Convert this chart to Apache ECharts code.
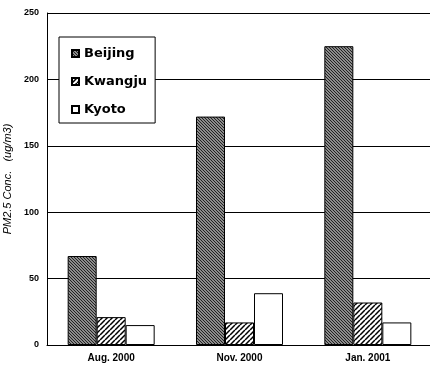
<!DOCTYPE html>
<html><head><meta charset="utf-8">
<script src="https://cdn.jsdelivr.net/npm/echarts@6/dist/echarts.min.js"></script>
<style>html,body{margin:0;padding:0;background:#fff}#c{width:430px;height:367px}</style>
</head><body><div id="c"></div>
<script>
const categories = ['Aug. 2000', 'Nov. 2000', 'Jan. 2001'];
const seriesNames = ['Beijing', 'Kwangju', 'Kyoto'];
const beijing = [67, 172, 225];
const kwangju = [21, 17, 32];
const kyoto = [15, 39, 17];
const yMin = 0, yMax = 250, yStep = 50;

function hatch(size, bg, fg, lw, dir) {
  const c = document.createElement('canvas');
  c.width = size; c.height = size;
  const g = c.getContext('2d');
  g.fillStyle = bg; g.fillRect(0, 0, size, size);
  g.strokeStyle = fg; g.lineWidth = lw;
  g.beginPath();
  for (const k of [-size, 0, size]) {
    if (dir === '/') { g.moveTo(k, size); g.lineTo(k + size, 0); }
    else { g.moveTo(k, 0); g.lineTo(k + size, size); }
  }
  g.stroke();
  return { image: c, repeat: 'repeat' };
}
const patBeijing = hatch(3, '#8c8c8c', '#222', 1, '\\');
const patKwangju = hatch(5, '#ffffff', '#000', 1.5, '/');

const chart = echarts.init(document.getElementById('c'), null, { renderer: 'canvas' });
const barBase = { type: 'bar', barWidth: 29, barGap: '0%' };
chart.setOption({
  animation: false,
  backgroundColor: '#fff',
  grid: { left: 47, top: 13, width: 385, height: 332, outerBoundsMode: 'none', containLabel: false },
  legend: {
    orient: 'vertical', left: 59, top: 37,
    backgroundColor: '#fff', borderColor: '#000', borderWidth: 1,
    padding: [10, 8, 7, 12], itemGap: 15, itemWidth: 7, itemHeight: 7,
    icon: 'rect',
    textStyle: { fontFamily: 'DejaVu Sans', fontWeight: 'bold', fontSize: 13, color: '#000' },
    data: seriesNames
  },
  xAxis: {
    type: 'category', data: categories,
    axisLine: { lineStyle: { color: '#000', width: 1 } },
    axisTick: { show: false },
    axisLabel: { color: '#000', fontFamily: 'Liberation Sans', fontWeight: 'bold', fontSize: 10, margin: 8 }
  },
  yAxis: {
    type: 'value', min: yMin, max: yMax, interval: yStep,
    name: 'PM2.5 Conc.   (ug/m3)', nameLocation: 'middle', nameGap: 31,
    nameTextStyle: { fontFamily: 'Liberation Sans', fontStyle: 'italic', fontSize: 11, color: '#000' },
    axisLine: { show: true, lineStyle: { color: '#000', width: 1 } },
    axisTick: { show: false },
    axisLabel: { color: '#000', fontFamily: 'Liberation Sans', fontWeight: 'bold', fontSize: 9, margin: 8 },
    splitLine: { show: true, lineStyle: { color: '#000', width: 1 } }
  },
  series: [
    Object.assign({}, barBase, { name: seriesNames[0], data: beijing, itemStyle: { color: patBeijing, borderColor: '#000', borderWidth: 1 } }),
    Object.assign({}, barBase, { name: seriesNames[1], data: kwangju, itemStyle: { color: patKwangju, borderColor: '#000', borderWidth: 1 } }),
    Object.assign({}, barBase, { name: seriesNames[2], data: kyoto, itemStyle: { color: '#fff', borderColor: '#000', borderWidth: 1 } })
  ]
});
</script></body></html>
